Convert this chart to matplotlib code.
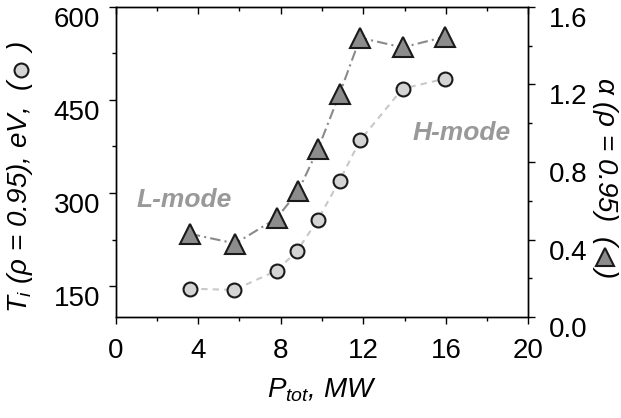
import matplotlib
matplotlib.use("Agg")
import matplotlib.pyplot as plt
from matplotlib.ticker import MultipleLocator

plt.rcParams['font.family'] = ['Liberation Sans', 'DejaVu Sans']
plt.rcParams['mathtext.fontset'] = 'custom'
plt.rcParams['mathtext.it'] = 'Liberation Sans:italic'
plt.rcParams['mathtext.rm'] = 'Liberation Sans'

# données
p_tot = [3.6, 5.75, 7.8, 8.8, 9.8, 10.85, 11.85, 13.9, 15.95]
ti_edge = [146, 144, 175, 207, 257, 320, 385, 468, 484]
p_tot_alpha = [3.6, 5.8, 7.8, 8.85, 9.8, 10.85, 11.85, 13.9, 15.95]
alpha_edge = [0.43, 0.38, 0.51, 0.65, 0.865, 1.15, 1.44, 1.39, 1.445]

fig = plt.figure(figsize=(6.21, 4.18), dpi=100)
ax = fig.add_axes([0.186, 0.241, 0.665, 0.743])
ax2 = ax.twinx()

ax.plot(p_tot, ti_edge, ls=(0, (3, 2.5)), color='#c8c8c8', lw=1.5,
        marker='o', ms=10, mfc='#d4d4d4', mec='#1a1a1a', mew=1.5, zorder=3)
ax2.plot(p_tot_alpha, alpha_edge, ls=(0, (5, 2, 1, 2)), color='#8a8a8a', lw=1.5,
         marker='^', ms=14, mfc='#8c8c8c', mec='#1a1a1a', mew=1.5, zorder=3)

ax.set_xlim(0, 20)
ax.set_ylim(100, 600)
ax2.set_ylim(0, 1.6)

ax.xaxis.set_major_locator(MultipleLocator(4))
ax.xaxis.set_minor_locator(MultipleLocator(2))
ax.set_yticks([150, 300, 450, 600])
ax.yaxis.set_minor_locator(MultipleLocator(75))
ax2.yaxis.set_major_locator(MultipleLocator(0.4))
ax2.yaxis.set_minor_locator(MultipleLocator(0.2))
ax2.set_yticklabels([f"{v:.1f}" for v in ax2.get_yticks()])

ax.tick_params(axis='both', which='major', labelsize=20, length=5, width=1, direction='out')
ax.tick_params(axis='both', which='minor', length=3, width=1, direction='out')
ax.tick_params(axis='x', which='both', top=True, pad=10)
ax.tick_params(axis='y', which='major', pad=6)
ax2.tick_params(axis='y', which='major', labelsize=20, length=5, width=1, direction='out', pad=10)
ax2.tick_params(axis='y', which='minor', length=3, width=1, direction='out')
for a in (ax, ax2):
    for s in a.spines.values():
        s.set_linewidth(1)
    # étiquettes alignées par le haut sur le tick, comme l'original
    plt.setp(a.get_yticklabels(), va='top')
# ticks du haut vers l'intérieur
for t in ax.xaxis.get_major_ticks() + ax.xaxis.get_minor_ticks():
    t.tick2line.set_marker(3)

ax.set_xlabel('$P_{tot}$, MW', fontsize=20, style='italic', labelpad=9)
fig.text(20 / 621, 1 - 177 / 418, r'$T_i$ ($\rho$ = 0.95), eV,  (    )', fontsize=20,
         style='italic', rotation=90, ha='center', va='center')
fig.text(605 / 621, 1 - 177 / 418, r'$\alpha$ ($\rho$ = 0.95)  (   )', fontsize=20,
         style='italic', rotation=270, ha='center', va='center')

ax.text(1.0, 289, 'L-mode', fontsize=19, fontweight='bold', style='italic',
        color='#999999', ha='left', va='center')
ax.text(14.4, 397, 'H-mode', fontsize=19, fontweight='bold', style='italic',
        color='#999999', ha='left', va='center')

# symboles dans les étiquettes des axes
fig.lines.append(plt.Line2D([21 / 621], [1 - 70 / 418], transform=fig.transFigure,
                            marker='o', ms=10, mfc='#d4d4d4', mec='#1a1a1a', mew=1.5))
fig.lines.append(plt.Line2D([605 / 621], [1 - 257 / 418], transform=fig.transFigure,
                            marker='^', ms=13, mfc='#8c8c8c', mec='#1a1a1a', mew=1.5))

fig.savefig('out.png', dpi=100)
